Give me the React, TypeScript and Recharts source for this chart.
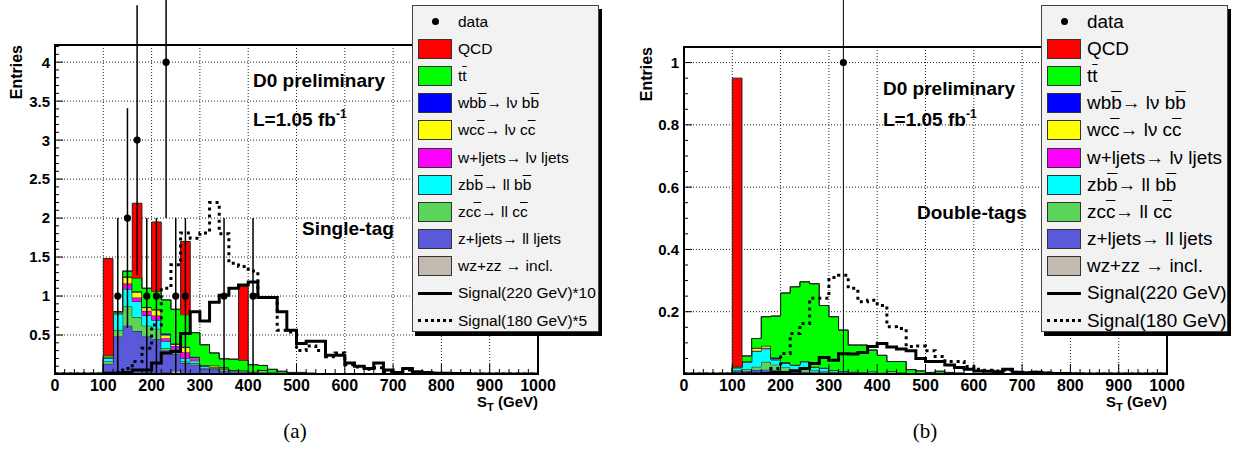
import React from 'react';
import {
  ComposedChart,
  Area,
  Line,
  Scatter,
  ErrorBar,
  XAxis,
  YAxis,
  CartesianGrid,
  ReferenceArea,
  Legend,
} from 'recharts';

// histogram bins are 20 GeV wide, arrays start at the 100 GeV bin
const binWidth = 20;
const firstBin = 100;

// (a) single-tag
const wzA = [0, 0.01, 0.02, 0.01, 0.02, 0.01, 0.02, 0.04, 0.01, 0.01, 0.005, 0.005];
const zljA = [0.13, 0.47, 0.6, 0.54, 0.46, 0.44, 0.28, 0.22, 0.13, 0.11, 0.06, 0.05, 0.04, 0.03, 0.03, 0.02, 0.02, 0.01, 0.01, 0.01, 0.005, 0.005];
const zccA = [0.03, 0.08, 0.25, 0.18, 0.14, 0.13, 0.03, 0.02, 0.02, 0.02, 0.01, 0.01, 0.02, 0.01, 0.01, 0.01, 0.03, 0.01, 0.005, 0, 0.005];
const zbbA = [0.04, 0.21, 0.22, 0.2, 0.13, 0.11, 0.09, 0.04, 0.04, 0.03, 0.02, 0.01, 0.01, 0.01, 0.005];
const wljA = [0.01, 0.01, 0.07, 0.05, 0.06, 0.06, 0.04, 0.04, 0.08, 0.03, 0.01, 0.01];
const wccA = [0.01, 0.01, 0.08, 0.07, 0.04, 0.07, 0.04, 0.02, 0.06, 0.01, 0.01, 0.02, 0.01];
const wbbA = [0, 0, 0.01, 0.01, 0.01, 0.01, 0.02, 0.01, 0.01, 0.01, 0, 0.005, 0.005];
const ttA = [0.02, 0.01, 0.07, 0.17, 0.24, 0.23, 0.43, 0.44, 0.41, 0.31, 0.26, 0.16, 0.11, 0.14, 0.13, 0.09, 0.06, 0.04, 0.02, 0.01, 0.01, 0.005, 0.005];
const qcdA = [1.24, 0, 0, 0.96, 0, 0.89, 0, 0, 0.94, 0, 0, 0, 0, 0, 0.95];
const sig220A = [0.01, 0.01, 0.02, 0.05, 0.05, 0.14, 0.27, 0.29, 0.52, 0.8, 0.68, 0.92, 1.01, 1.1, 1.14, 1.18, 0.98, 0.98, 0.8, 0.56, 0.39, 0.42, 0.42, 0.24, 0.24, 0.14, 0.1, 0.07, 0.14, 0.05, 0.02, 0.07, 0.03, 0.02, 0.01, 0.01, 0.005, 0.005];
const sig180A = [0, 0.02, 0.07, 0.16, 0.33, 0.63, 1.1, 1.4, 1.81, 1.74, 1.81, 2.2, 1.8, 1.42, 1.38, 1.32, 0.98, 0.98, 0.56, 0.54, 0.3, 0.36, 0.3, 0.22, 0.27, 0.12, 0.09, 0.06, 0.08, 0.03, 0.02, 0.05, 0.02, 0.01, 0.01];
const dataXA = [130, 150, 170, 190, 210, 230, 250, 270, 350, 410];
const dataYA = [1, 2, 3, 1, 1, 4, 1, 1, 1, 1];
const dataErrA = [1, 1.41, 1.73, 1, 1, 2, 1, 1, 1, 1];

// (b) double-tags
const wzB = [0, 0, 0.001, 0.002, 0.002, 0.002, 0.002, 0.001, 0.001, 0.001, 0.001, 0.001];
const zljB = [0.008, 0.01, 0.012, 0.012, 0.01, 0.008, 0.006, 0.006, 0.005, 0.004, 0.004, 0.003, 0.002, 0.002, 0.002, 0.001, 0.001];
const zccB = [0.004, 0.006, 0.01, 0.025, 0.018, 0.012, 0.008, 0.012, 0.005, 0.003, 0.002, 0.002, 0.002, 0.002, 0.004, 0.002, 0.008, 0.005, 0.002, 0, 0, 0.004];
const zbbB = [0.008, 0.022, 0.05, 0.042, 0.015, 0.012, 0.012, 0.02, 0.01, 0.01, 0.005, 0.004, 0.003, 0.002, 0.002, 0.001];
const wljB = [0, 0.001, 0.002, 0.003, 0.002, 0.001, 0.001, 0.001, 0.001, 0.001];
const wccB = [0.002, 0.002, 0.008, 0.006, 0.003, 0.002, 0.001, 0.001, 0.001, 0.001];
const wbbB = [0, 0, 0.001, 0.001, 0.003, 0.001];
const ttB = [0.002, 0.017, 0.03, 0.093, 0.133, 0.222, 0.25, 0.255, 0.267, 0.2, 0.172, 0.131, 0.086, 0.087, 0.069, 0.056, 0.031, 0.035, 0.012, 0.01, 0.005, 0.005, 0.005, 0.003];
const qcdB = [0.926];
const sig220B = [0, 0, 0, 0.002, 0.005, 0.005, 0.01, 0.018, 0.034, 0.053, 0.044, 0.065, 0.064, 0.069, 0.088, 0.098, 0.087, 0.08, 0.075, 0.05, 0.04, 0.04, 0.029, 0.021, 0.015, 0.01, 0.009, 0.007, 0.015, 0.006, 0.004, 0.006, 0.003, 0.002, 0.002, 0.001];
const sig180B = [0, 0, 0, 0, 0.018, 0.066, 0.13, 0.162, 0.243, 0.243, 0.31, 0.317, 0.275, 0.232, 0.237, 0.22, 0.152, 0.146, 0.088, 0.09, 0.075, 0.056, 0.04, 0.04, 0.024, 0.015, 0.012, 0.01, 0.012, 0.006, 0.004, 0.006, 0.003, 0.002, 0.001];
const dataXB = [330];
const dataYB = [1];
const dataErrB = [1];

// axis ticks
const xMajors = [0, 100, 200, 300, 400, 500, 600, 700, 800, 900, 1000];
const xGrid = [100, 200, 300, 400, 500, 600, 700, 800, 900];
const yMajorsA = [0.5, 1, 1.5, 2, 2.5, 3, 3.5, 4];
const yMajorsB = [0.2, 0.4, 0.6, 0.8, 1];

const stackKeys = ['wz', 'zlj', 'zcc', 'zbb', 'wlj', 'wcc', 'wbb', 'tt', 'qcd'];
const colors: Record<string, string> = {
  wz: '#c2b9b0',
  zlj: '#5959d9',
  zcc: '#59d659',
  zbb: '#00ffff',
  wlj: '#ff00ff',
  wcc: '#ffff00',
  wbb: '#0000ff',
  tt: '#00ff00',
  qcd: '#ff0000',
};

const FONT = '"Liberation Sans", Arial, Helvetica, sans-serif';
const CHART_H = 454;
const X_AXIS_H = 30;
const Y_AXIS_W = 54;
const xTicks = Array.from({ length: 1000 / binWidth + 1 }, (_, i) => i * binWidth);

function buildRows(series: Record<string, number[]>) {
  return xTicks.map((x) => {
    const row: Record<string, number> = { x };
    const i = (x - firstBin) / binWidth;
    Object.keys(series).forEach((k) => {
      row[k] = series[k][i] ?? 0;
    });
    return row;
  });
}

const rowsA = buildRows({ wz: wzA, zlj: zljA, zcc: zccA, zbb: zbbA, wlj: wljA, wcc: wccA, wbb: wbbA, tt: ttA, qcd: qcdA, sig220: sig220A, sig180: sig180A });
const rowsB = buildRows({ wz: wzB, zlj: zljB, zcc: zccB, zbb: zbbB, wlj: wljB, wcc: wccB, wbb: wbbB, tt: ttB, qcd: qcdB, sig220: sig220B, sig180: sig180B });
const pointsA = dataXA.map((x, i) => ({ x, y: dataYA[i], err: dataErrA[i] }));
const pointsB = dataXB.map((x, i) => ({ x, y: dataYB[i], err: dataErrB[i] }));

const ob = (s: string) => <span style={{ textDecoration: 'overline' }}>{s}</span>;

// vertical grid at the major x ticks, placed inside the plot offset that recharts hands over
const verticalGrid = (props: any) => {
  const offset = props && props.offset;
  if (!offset || typeof offset.left !== 'number' || typeof offset.width !== 'number') return [];
  return xGrid.map((v) => offset.left + (v / 1000) * offset.width);
};

// x ticks: minor every 20, major + label every 100 (ticks point into the frame)
function XTick(props: any) {
  const { x, y, payload } = props;
  const v = payload.value;
  const major = xMajors.includes(v);
  return (
    <g>
      <path d={`M${x},${y}V${y - (major ? 10 : 5)}`} stroke="#000" strokeWidth={1} fill="none" />
      {major && (
        <text x={x} y={y + 16.5} textAnchor="middle" fontSize={16} fontWeight="bold" fontFamily={FONT} fill="#000">
          {v}
        </text>
      )}
    </g>
  );
}

function YTick(props: any) {
  const { x, y, payload, majors } = props;
  const v = payload.value;
  const major = majors.find((m: number) => Math.abs(m - v) < 1e-6);
  return (
    <g>
      <path d={`M${x},${y}H${x + (major !== undefined ? 8 : 4)}`} stroke="#000" strokeWidth={1} fill="none" />
      {major !== undefined && (
        <text x={x - 5} y={y + 5.4} textAnchor="end" fontSize={15} fontWeight="bold" fontFamily={FONT} fill="#000">
          {String(major)}
        </text>
      )}
    </g>
  );
}

function LegendBox({ fontSize, sig220, sig180 }: { fontSize: number; sig220: string; sig180: string }) {
  const entries: { kind: string; key?: string; label: React.ReactNode }[] = [
    { kind: 'dot', label: 'data' },
    { kind: 'box', key: 'qcd', label: 'QCD' },
    { kind: 'box', key: 'tt', label: <>t{ob('t')}</> },
    { kind: 'box', key: 'wbb', label: <>wb{ob('b')}→ lν b{ob('b')}</> },
    { kind: 'box', key: 'wcc', label: <>wc{ob('c')}→ lν c{ob('c')}</> },
    { kind: 'box', key: 'wlj', label: 'w+ljets→ lν ljets' },
    { kind: 'box', key: 'zbb', label: <>zb{ob('b')}→ ll b{ob('b')}</> },
    { kind: 'box', key: 'zcc', label: <>zc{ob('c')}→ ll c{ob('c')}</> },
    { kind: 'box', key: 'zlj', label: 'z+ljets→ ll ljets' },
    { kind: 'box', key: 'wz', label: 'wz+zz → incl.' },
    { kind: 'solid', label: sig220 },
    { kind: 'dotted', label: sig180 },
  ];
  return (
    <div
      style={{
        width: 187,
        height: 327,
        boxSizing: 'border-box',
        background: '#f2f2f2',
        border: '1px solid #444',
        boxShadow: '3px 4px 0 #000',
        paddingTop: 2,
        fontFamily: FONT,
        fontSize,
        color: '#000',
        overflow: 'hidden',
        whiteSpace: 'nowrap',
      }}
    >
      {entries.map((e, i) => (
        <div key={i} style={{ height: 27.2, display: 'flex', alignItems: 'center' }}>
          <div style={{ width: 34, marginLeft: 5, height: 20, display: 'flex', alignItems: 'center', justifyContent: 'center' }}>
            {e.kind === 'dot' && <div style={{ width: 7, height: 7, borderRadius: 4, background: '#000' }} />}
            {e.kind === 'box' && (
              <div style={{ width: 34, height: 20, boxSizing: 'border-box', border: '1px solid #333', background: colors[e.key as string] }} />
            )}
            {e.kind === 'solid' && <div style={{ width: 34, height: 0, borderTop: '3px solid #000' }} />}
            {e.kind === 'dotted' && <div style={{ width: 34, height: 0, borderTop: '3px dotted #000' }} />}
          </div>
          <div style={{ marginLeft: 6 }}>{e.label}</div>
        </div>
      ))}
    </div>
  );
}

type PanelProps = {
  left: number;
  width: number;
  marginTop: number;
  rows: Record<string, number>[];
  points: { x: number; y: number; err: number }[];
  yMax: number;
  yMajors: number[];
  yMinorStep: number;
  legendFont: number;
  sig220: string;
  sig180: string;
  errWidth: number;
  children?: React.ReactNode;
};

function Panel({ left, width, marginTop, rows, points, yMax, yMajors, yMinorStep, legendFont, sig220, sig180, errWidth, children }: PanelProps) {
  const yTicks = Array.from({ length: Math.floor(yMax / yMinorStep + 1e-6) + 1 }, (_, i) => Math.round(i * yMinorStep * 1000) / 1000);
  return (
    <div style={{ position: 'absolute', left, top: 0, width, height: CHART_H }}>
      <ComposedChart
        width={width}
        height={CHART_H}
        data={rows}
        margin={{ top: marginTop, right: width - 538, bottom: 80 - X_AXIS_H, left: 55 - Y_AXIS_W }}
      >
        <CartesianGrid
          stroke="#222"
          strokeDasharray="1 2"
          horizontalValues={yMajors}
          verticalCoordinatesGenerator={verticalGrid}
        />
        <XAxis
          type="number"
          dataKey="x"
          domain={[0, 1000]}
          ticks={xTicks}
          interval={0}
          height={X_AXIS_H}
          tickSize={0}
          tickMargin={0}
          axisLine={false}
          tickLine={false}
          tick={(p: any) => <XTick {...p} />}
        />
        <YAxis
          type="number"
          domain={[0, yMax]}
          ticks={yTicks}
          interval={0}
          allowDataOverflow
          width={Y_AXIS_W}
          tickSize={0}
          tickMargin={0}
          axisLine={false}
          tickLine={false}
          tick={(p: any) => <YTick {...p} majors={yMajors} />}
        />
        {stackKeys.map((k) => (
          <Area
            key={k}
            type="stepAfter"
            dataKey={k}
            stackId="bkg"
            fill={colors[k]}
            fillOpacity={1}
            stroke="#222"
            strokeWidth={1}
            dot={false}
            activeDot={false}
            isAnimationActive={false}
          />
        ))}
        <Line type="stepAfter" dataKey="sig220" stroke="#000" strokeWidth={3} dot={false} activeDot={false} isAnimationActive={false} />
        <Line type="stepAfter" dataKey="sig180" stroke="#000" strokeWidth={3} strokeDasharray="3 4" dot={false} activeDot={false} isAnimationActive={false} />
        <Scatter
          data={points}
          dataKey="y"
          fill="#000"
          isAnimationActive={false}
          shape={(p: any) => <circle cx={p.cx} cy={p.cy} r={3.6} fill="#000" />}
        >
          <ErrorBar dataKey="err" direction="y" width={0} stroke="#000" strokeWidth={errWidth} />
        </Scatter>
        <ReferenceArea x1={0} x2={1000} y1={0} y2={yMax} fill="none" fillOpacity={0} stroke="#000" strokeWidth={2} ifOverflow="visible" />
        <Legend
          layout="horizontal"
          verticalAlign="middle"
          align="center"
          wrapperStyle={{ left: 412, top: 5, width: 187, height: 327 }}
          content={() => <LegendBox fontSize={legendFont} sig220={sig220} sig180={sig180} />}
        />
      </ComposedChart>
      {children}
    </div>
  );
}

const txt = (left: number, top: number, fontSize: number, bold: boolean, content: React.ReactNode, extra: React.CSSProperties = {}) => (
  <div
    style={{
      position: 'absolute',
      left,
      top,
      fontSize,
      fontWeight: bold ? 'bold' : 'normal',
      fontFamily: FONT,
      lineHeight: 1,
      whiteSpace: 'nowrap',
      pointerEvents: 'none',
      color: '#000',
      ...extra,
    }}
  >
    {content}
  </div>
);

const lumi = (
  <>
    L=1.05 fb<span style={{ fontSize: 12, position: 'relative', top: -8 }}>-1</span>
  </>
);

const stLabel = (
  <>
    S<span style={{ fontSize: 11, position: 'relative', top: 4 }}>T</span> (GeV)
  </>
);

const entriesStyle: React.CSSProperties = { writingMode: 'vertical-rl', transform: 'rotate(180deg)' };

export default function App() {
  return (
    <div style={{ position: 'absolute', left: 0, top: 0, width: 1246, height: 454, background: '#fff', fontFamily: FONT, overflow: 'hidden' }}>
      <Panel
        left={0}
        width={629}
        marginTop={45}
        rows={rowsA}
        points={pointsA}
        yMax={4.22}
        yMajors={yMajorsA}
        yMinorStep={0.1}
        legendFont={15.5}
        sig220="Signal(220 GeV)*10"
        sig180="Signal(180 GeV)*5"
        errWidth={1.5}
      >
        {txt(253, 71, 19, true, 'D0 preliminary')}
        {txt(253, 110, 19, true, lumi)}
        {txt(302, 219, 19, true, 'Single-tag')}
        {txt(9, 45, 16, true, 'Entries', entriesStyle)}
        {txt(538, 394, 15, true, stLabel, { transform: 'translateX(-100%)' })}
        {txt(295, 421, 21, false, '(a)', { fontFamily: '"Liberation Serif", "Times New Roman", serif', transform: 'translateX(-50%)' })}
      </Panel>
      <Panel
        left={629}
        width={617}
        marginTop={47}
        rows={rowsB}
        points={pointsB}
        yMax={1.05}
        yMajors={yMajorsB}
        yMinorStep={0.05}
        legendFont={18.9}
        sig220="Signal(220 GeV)"
        sig180="Signal(180 GeV)"
        errWidth={1}
      >
        {txt(254, 79, 19, true, 'D0 preliminary')}
        {txt(254, 110, 19, true, lumi)}
        {txt(288, 203, 19, true, 'Double-tags')}
        {txt(10, 47, 16, true, 'Entries', entriesStyle)}
        {txt(538, 394, 15, true, stLabel, { transform: 'translateX(-100%)' })}
        {txt(296, 421, 21, false, '(b)', { fontFamily: '"Liberation Serif", "Times New Roman", serif', transform: 'translateX(-50%)' })}
      </Panel>
    </div>
  );
}
